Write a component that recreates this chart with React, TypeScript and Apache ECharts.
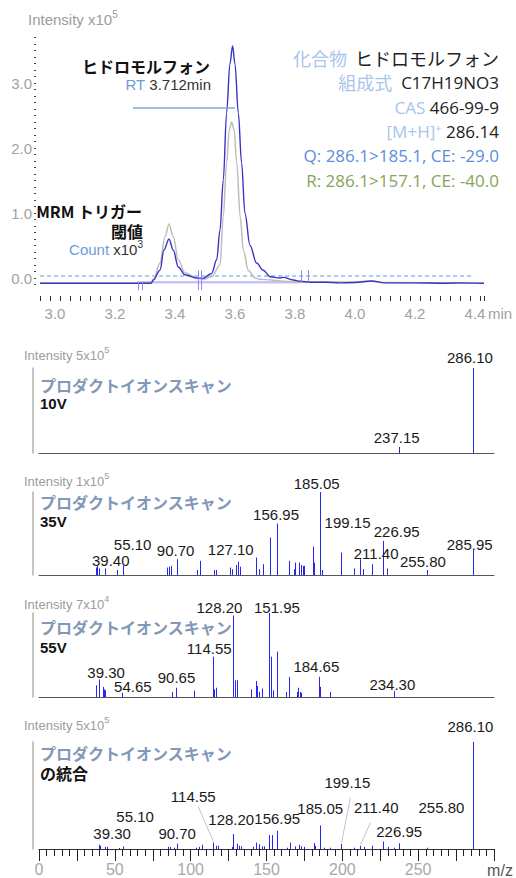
import React, { useEffect, useRef } from "react";
import * as echarts from "echarts";

// ---------------- DATA ----------------
// Chromatogram (time in min, intensity in 10^5)
const quantTrace: [number, number][] = [
  [2.95, -0.08], [3.1, -0.08], [3.25, -0.08], [3.32, -0.08], [3.328, -0.03], [3.35, 0.12],
  [3.363, 0.43], [3.38, 0.6], [3.394, 0.43], [3.411, 0.17], [3.433, 0.05], [3.472, 0.0],
  [3.493, -0.005], [3.522, 0.07], [3.539, 0.28], [3.55, 0.74], [3.561, 1.51], [3.572, 2.54],
  [3.583, 3.29], [3.592, 3.57], [3.6, 3.29], [3.611, 2.54], [3.622, 1.77], [3.633, 1.0],
  [3.65, 0.5], [3.672, 0.23], [3.694, 0.12], [3.717, 0.02], [3.75, 0.0], [3.761, 0.01],
  [3.794, -0.03], [3.817, -0.05], [3.85, -0.065], [3.9, -0.065], [3.95, -0.075], [4.0, -0.07],
  [4.055, -0.045], [4.1, -0.075], [4.2, -0.075], [4.3, -0.08], [4.35, -0.075], [4.43, -0.08],
];
const qualTrace: [number, number][] = [
  [2.95, -0.08], [3.32, -0.08], [3.328, -0.02], [3.35, 0.23], [3.367, 0.64], [3.38, 0.83],
  [3.394, 0.64], [3.411, 0.28], [3.433, 0.08], [3.472, 0.0], [3.494, -0.02], [3.522, 0.02],
  [3.55, 0.2], [3.561, 0.95], [3.572, 1.77], [3.581, 2.28], [3.589, 2.4], [3.597, 2.28],
  [3.606, 1.77], [3.617, 0.95], [3.628, 0.43], [3.644, 0.12], [3.667, 0.0], [3.683, -0.02],
  [3.72, -0.03], [3.76, -0.05], [3.8, -0.06], [4.0, -0.06], [4.055, -0.05], [4.1, -0.07], [4.43, -0.08],
];
const thresholdLevel = 0.03;
const thresholdSpan = [2.927, 4.39];
const triggerWindow = [3.275, 3.82];
const triggerLevel = -0.065;
const triggerMarks = [3.275, 3.475, 3.82];
const rtLine = [3.26, 3.6];
const rtLevel = 2.615;
const chromXLabels = [3.0, 3.2, 3.4, 3.6, 3.8, 4.0, 4.2, 4.4];
const chromYLabels = [0, 1, 2, 3];

// Product ion spectra (m/z, relative intensity %)
const mz10V = [237.15, 286.1];
const int10V = [7, 100];
const labels10V = [286.1, 237.15];

const mz35V = [37.6, 38.5, 39.4, 43.5, 51.5, 55.1, 84.5, 85.8, 86.8, 90.7, 104.2, 106.3, 115.1, 116.4,
  126.1, 127.1, 130.2, 131.1, 132.8, 142.9, 144.9, 147.9, 152.5, 156.95, 164.6, 167.9, 168.8, 171.2,
  173.0, 173.9, 174.5, 180.4, 181.1, 185.05, 186.8, 199.15, 207.5, 211.4, 213.8, 219.6, 226.95, 229.6,
  255.8, 285.95];
const int35V = [9, 11, 8, 8, 6, 11, 9, 10, 11, 19, 6, 17, 6, 6,
  9, 7, 12, 16, 10, 21, 7, 13, 45, 62, 17, 7, 15, 15,
  12, 11, 11, 34, 15, 100, 6, 27, 8, 19, 7, 13, 41, 8,
  6, 30];
const labels35V = [185.05, 156.95, 199.15, 226.95, 211.4, 255.8, 285.95, 127.1, 90.7, 55.1, 39.4];

const mz55V = [37.9, 39.3, 42.0, 42.9, 43.8, 54.65, 88.0, 90.65, 102.5, 114.55, 115.7, 116.6, 128.2,
  129.5, 130.8, 140.1, 142.8, 143.9, 144.8, 147.2, 151.95, 152.8, 154.4, 156.6, 162.8, 164.6, 170.1,
  171.0, 171.9, 172.7, 184.65, 185.5, 191.6, 234.3];
const int55V = [14, 21, 12, 9, 8, 5, 6, 11, 7.5, 48, 9, 11, 97,
  20, 20, 9, 19, 13, 6, 10, 100, 48, 8, 54, 6, 24, 6,
  11, 6, 5, 24, 12, 6, 7];
const labels55V = [128.2, 151.95, 114.55, 184.65, 234.3, 90.65, 54.65, 39.3];

const mzSum = [39.3, 40.3, 43.8, 44.7, 52.9, 55.1, 84.9, 86.5, 89.1, 90.7, 103.2, 105.8, 107.6, 114.55,
  117.0, 117.9, 127.2, 128.2, 130.5, 131.8, 133.1, 141.0, 143.2, 144.8, 147.2, 148.1, 151.95, 153.4,
  156.95, 163.5, 165.3, 169.0, 171.2, 172.9, 174.5, 181.1, 181.7, 185.05, 187.7, 192.1, 199.15, 207.9,
  211.4, 214.1, 219.6, 226.95, 229.9, 234.3, 237.15, 255.8, 286.1];
const intSum = [4, 3, 2, 2, 1, 2.5, 2, 2, 1.2, 5, 1.2, 2, 4, 6,
  3, 3, 2, 14, 5, 3, 2.5, 2, 6, 4.5, 2.5, 2.5, 13, 13,
  17, 1.2, 6, 2.5, 4, 2.5, 2, 5.5, 3, 22, 1.2, 1.2, 4.7, 1.2,
  3, 2, 3, 7, 2, 1.2, 5.3, 1.2, 100];
const labelsSum = [286.1, 199.15, 114.55, 211.4, 255.8, 185.05, 128.2, 156.95, 55.1, 226.95, 39.3, 90.7];

const mzAxisLabels = [0, 50, 100, 150, 200, 250];

// ---------------- LAYOUT (label offsets from peak tops, px) ----------------
const off10V = [[-3, -11], [-2, -10]];
const off35V = [[-3, -9], [-1, -9], [6.5, -30], [13.5, -9], [16.5, -6], [-4, -9], [-3, -6], [-1, -20], [-1, -9], [10, -21], [12, -8]];
const off55V = [[-14, -8.5], [7.5, -6], [-3.5, -8], [-2.7, -10], [-2, -7], [0, -10], [11, -6.5], [7.5, -7]];
const offSum = [[-2.5, -16], [6.3, -61], [-19.5, -46], [16.7, -38], [14.5, -40], [0.6, -17], [-2.2, -15], [0.2, -12], [12.5, -30], [16, -10], [13.5, -11], [0.6, -10]];
const leadSum: (number[] | null)[] = [null, [3, 15], [5, 10], [-6, 15], null, null, null, null, null, null, null, null];

const LATIN = '"Liberation Sans", Arial, sans-serif';
const CJK = '"Noto Sans CJK JP", sans-serif';
const INFO = '"Open Sans", "Noto Sans CJK JP", sans-serif';
const BAR = "#2626f2";
const GREY = "#9c9c9c";

let measureCtx: CanvasRenderingContext2D | null = null;
function textWidth(text: string, size: number, family: string, weight = "normal") {
  if (!measureCtx) measureCtx = document.createElement("canvas").getContext("2d");
  if (!measureCtx) return text.length * size * 0.55;
  measureCtx.font = `${weight} ${size}px ${family}`;
  return measureCtx.measureText(text).width;
}

type Part = { text: string; size: number; color: string; family?: string; sup?: boolean };
function partsText(x: number, y: number, parts: Part[], align: "left" | "right") {
  const widths = parts.map((p) => textWidth(p.text, p.size, p.family || LATIN));
  const total = widths.reduce((a, b) => a + b, 0);
  let cx = align === "right" ? x - total : x;
  const children: any[] = [];
  parts.forEach((p, i) => {
    children.push({
      type: "text",
      x: cx,
      y: p.sup ? y - 5 : y,
      style: {
        text: p.text,
        fill: p.color,
        fontSize: p.size,
        fontFamily: p.family || LATIN,
        align: "left",
        verticalAlign: "middle",
        lineHeight: p.size,
      },
    });
    cx += widths[i];
  });
  return { type: "group", children };
}

function barSeries(idx: number, mz: number[], ints: number[]) {
  return {
    type: "custom",
    xAxisIndex: idx,
    yAxisIndex: idx,
    silent: true,
    z: 3,
    data: mz.map((m, i) => [m, ints[i]]),
    renderItem: (_p: any, api: any) => {
      const p0 = api.coord([api.value(0), 0]);
      const p1 = api.coord([api.value(0), api.value(1)]);
      const x = Math.round(p0[0]) + 0.5;
      return { type: "line", shape: { x1: x, y1: p0[1], x2: x, y2: p1[1] }, style: { stroke: BAR, lineWidth: 1 } };
    },
  };
}

function labelSeries(idx: number, labels: number[], mz: number[], ints: number[], offs: number[][], leads?: (number[] | null)[]) {
  return {
    type: "custom",
    xAxisIndex: idx,
    yAxisIndex: idx,
    silent: true,
    z: 4,
    data: labels.map((m, i) => [m, ints[mz.indexOf(m)], i]),
    renderItem: (_p: any, api: any) => {
      const i = api.value(2);
      const p = api.coord([api.value(0), api.value(1)]);
      const cx = p[0] + offs[i][0];
      const cy = p[1] + offs[i][1];
      const children: any[] = [
        {
          type: "text",
          x: cx,
          y: cy,
          style: { text: labels[i].toFixed(2), fill: "#1a1a1a", fontSize: 15, lineHeight: 15, fontFamily: LATIN, align: "center", verticalAlign: "middle" },
        },
      ];
      const l = leads && leads[i];
      if (l) {
        children.push({
          type: "line",
          shape: { x1: cx + l[0], y1: cy + l[1], x2: Math.round(p[0]) + 0.5, y2: p[1] - 1 },
          style: { stroke: "#c4c4c4", lineWidth: 1 },
        });
      }
      return { type: "group", children };
    },
  };
}

function plainText(x: number, y: number, text: string, opts: any) {
  return { type: "text", x, y, style: { text, verticalAlign: "middle", lineHeight: opts.fontSize || 14, ...opts } };
}

function buildOption() {
  const yTicks: number[] = [];
  for (let k = -1; k <= 37; k++) yTicks.push(k / 10);

  const panelTops = [368, 492, 613, 742];
  const panelHeights = [85, 83, 84, 107];

  const grids: any[] = [{ left: 40, top: 31, width: 444, height: 260, outerBoundsMode: "none" }];
  panelTops.forEach((t, i) => grids.push({ left: 39, top: t, width: 455, height: panelHeights[i], outerBoundsMode: "none" }));

  const xAxes: any[] = [
    {
      type: "value",
      gridIndex: 0,
      min: 2.95,
      max: 4.43,
      interval: 1 / 30,
      offset: 5,
      axisLine: { show: false, onZero: false },
      splitLine: { show: false },
      axisTick: { show: true, length: 5, lineStyle: { color: "#333", width: 1 } },
      axisLabel: { show: true, customValues: chromXLabels, formatter: (v: number) => v.toFixed(1), color: "#a2a2a2", fontSize: 15, fontFamily: LATIN, margin: 10 },
    },
  ];
  const yAxes: any[] = [
    {
      type: "value",
      gridIndex: 0,
      min: -0.2,
      max: 3.8,
      offset: 4,
      axisLine: { show: false, onZero: false },
      splitLine: { show: false },
      axisTick: { show: true, customValues: yTicks, length: 2, lineStyle: { color: "#444", width: 1 } },
      axisLabel: { customValues: chromYLabels, formatter: (v: number) => v.toFixed(1), color: "#a2a2a2", fontSize: 15, fontFamily: LATIN, margin: 4 },
    },
  ];
  for (let i = 1; i <= 4; i++) {
    const last = i === 4;
    xAxes.push({
      type: "value",
      gridIndex: i,
      min: 0,
      max: 300,
      interval: 25,
      axisLine: { show: true, onZero: false, lineStyle: { color: last ? "#333" : "#555", width: 1 } },
      splitLine: { show: false },
      axisTick: { show: last, length: 12, lineStyle: { color: "#222" } },
      minorTick: { show: last, splitNumber: 5, length: 7, lineStyle: { color: "#222" } },
      axisLabel: last
        ? { show: true, customValues: mzAxisLabels, color: "#a8a8a8", fontSize: 16, fontFamily: LATIN, margin: 12 }
        : { show: false },
    });
    yAxes.push({
      type: "value",
      gridIndex: i,
      min: 0,
      max: 100,
      offset: 6,
      axisLine: { show: true, onZero: false, lineStyle: { color: "#b3b3b3", width: 1.5 } },
      splitLine: { show: false },
      axisTick: { show: false },
      axisLabel: { show: false },
    });
  }

  const markerSpans = [[0, 8], [-12, 8], [-12, 0]];
  const markerGaps = [4, 3, 7];

  const series: any[] = [
    {
      type: "line",
      xAxisIndex: 0,
      yAxisIndex: 0,
      data: [[thresholdSpan[0], thresholdLevel], [thresholdSpan[1], thresholdLevel]],
      showSymbol: false,
      clip: false,
      silent: true,
      lineStyle: { color: "#8ebaef", width: 1.5, type: [4, 3] },
      z: 1,
    },
    {
      type: "line",
      xAxisIndex: 0,
      yAxisIndex: 0,
      data: [[triggerWindow[0], triggerLevel], [triggerWindow[1], triggerLevel]],
      showSymbol: false,
      silent: true,
      lineStyle: { color: "rgba(150,146,243,0.55)", width: 2.5 },
      z: 1,
    },
    {
      type: "line",
      xAxisIndex: 0,
      yAxisIndex: 0,
      data: qualTrace,
      showSymbol: false,
      smooth: 0.35,
      smoothMonotone: "x",
      silent: true,
      lineStyle: { color: "#bdbdbd", width: 1.5 },
      z: 2,
    },
    {
      type: "line",
      xAxisIndex: 0,
      yAxisIndex: 0,
      data: quantTrace,
      showSymbol: false,
      smooth: 0.35,
      smoothMonotone: "x",
      silent: true,
      lineStyle: { color: "#3a33c4", width: 1.4 },
      z: 3,
    },
    {
      type: "line",
      xAxisIndex: 0,
      yAxisIndex: 0,
      data: [[rtLine[0], rtLevel], [rtLine[1], rtLevel]],
      showSymbol: false,
      silent: true,
      lineStyle: { color: "#7ea8dd", width: 1.5 },
      z: 4,
    },
    {
      type: "custom",
      xAxisIndex: 0,
      yAxisIndex: 0,
      silent: true,
      z: 5,
      data: triggerMarks.map((t, i) => [t, triggerLevel, i]),
      renderItem: (_p: any, api: any) => {
        const i = api.value(2);
        const p = api.coord([api.value(0), api.value(1)]);
        const g = markerGaps[i];
        const [a, b] = markerSpans[i];
        const x0 = Math.round(p[0]) + 0.5;
        return {
          type: "group",
          children: [0, 1].map((k) => ({
            type: "line",
            shape: { x1: x0 + k * g, y1: p[1] + a, x2: x0 + k * g, y2: p[1] + b },
            style: { stroke: "#8d89ee", lineWidth: 1 },
          })),
        };
      },
    },
    barSeries(1, mz10V, int10V),
    labelSeries(1, labels10V, mz10V, int10V, off10V),
    barSeries(2, mz35V, int35V),
    labelSeries(2, labels35V, mz35V, int35V, off35V),
    barSeries(3, mz55V, int55V),
    labelSeries(3, labels55V, mz55V, int55V, off55V),
    barSeries(4, mzSum, intSum),
    labelSeries(4, labelsSum, mzSum, intSum, offSum, leadSum),
  ];

  const lightBlue = "#a9c5ec";
  const infoLine = (y: number, text: string, rich: any) => ({
    type: "text",
    x: 499,
    y,
    style: { text, align: "right", verticalAlign: "middle", rich },
  });
  const kCJK = { fontSize: 18, lineHeight: 19, fill: lightBlue, fontFamily: CJK };
  const vCJK = { fontSize: 18, lineHeight: 19, fill: "#222", fontFamily: CJK };
  const kLat = { fontSize: 17, lineHeight: 19, fill: lightBlue, fontFamily: INFO };
  const vLat = { fontSize: 17, lineHeight: 19, fill: "#222", fontFamily: INFO };

  const panelHeadY = [355, 481, 604, 725];
  const panelExp = [["5x10", "5"], ["1x10", "5"], ["7x10", "4"], ["5x10", "5"]];
  const scanY = [385, 502, 627, 753];
  const subTitles = ["10V", "35V", "55V", "の統合"];
  const subY = [403, 521, 647, 773];

  const graphics: any[] = [
    partsText(28, 19, [
      { text: "Intensity x10", size: 15, color: GREY },
      { text: "5", size: 10, color: GREY, sup: true },
    ], "left"),
    plainText(210, 65.5, "ヒドロモルフォン", { align: "right", fontSize: 16, fontWeight: "bold", fill: "#111", fontFamily: CJK }),
    partsText(211, 84, [
      { text: "RT ", size: 15, color: "#6a9de0" },
      { text: "3.712min", size: 15, color: "#333" },
    ], "right"),
    plainText(142, 210.5, "MRM トリガー", { align: "right", fontSize: 16, fontWeight: "bold", fill: "#111", fontFamily: CJK }),
    plainText(143, 230.5, "閾値", { align: "right", fontSize: 16, fontWeight: "bold", fill: "#111", fontFamily: CJK }),
    partsText(143, 249, [
      { text: "Count ", size: 15, color: "#6a9de0" },
      { text: "x10", size: 15, color: "#333" },
      { text: "3", size: 10, color: "#333", sup: true },
    ], "right"),
    infoLine(58, "{k|化合物}{v|  ヒドロモルフォン}", { k: kCJK, v: vCJK }),
    infoLine(82, "{k|組成式}{v|  C17H19NO3}", { k: kCJK, v: vLat }),
    infoLine(107, "{k|CAS}{v| 466-99-9}", { k: kLat, v: vLat }),
    infoLine(131, "{k|[M+H]}{s|+}{v| 286.14}", { k: kLat, v: vLat, s: { fontSize: 11, fill: lightBlue, fontFamily: INFO, verticalAlign: "top", lineHeight: 10 } }),
    infoLine(155, "{q|Q: 286.1>185.1, CE: -29.0}", { q: { fontSize: 17, lineHeight: 19, fill: "#5b8fd8", fontFamily: INFO } }),
    infoLine(180, "{r|R: 286.1>157.1, CE: -40.0}", { r: { fontSize: 17, lineHeight: 19, fill: "#88a35a", fontFamily: INFO } }),
    plainText(488, 313, "min", { align: "left", fontSize: 15, fill: "#a2a2a2", fontFamily: LATIN }),
    plainText(500, 870, "m/z", { align: "center", fontSize: 16, fill: "#555", fontFamily: LATIN }),
  ];
  for (let i = 0; i < 4; i++) {
    graphics.push(partsText(24, panelHeadY[i], [
      { text: "Intensity " + panelExp[i][0], size: 13, color: GREY },
      { text: panelExp[i][1], size: 9, color: GREY, sup: true },
    ], "left"));
    graphics.push(plainText(40, scanY[i], "プロダクトイオンスキャン", { align: "left", fontSize: 16, fontWeight: "bold", fill: "#8397b8", fontFamily: CJK }));
    graphics.push(
      plainText(40, subY[i], subTitles[i], {
        align: "left",
        fontSize: i === 3 ? 16 : 15,
        fontWeight: "bold",
        fill: "#111",
        fontFamily: i === 3 ? CJK : LATIN,
      })
    );
  }

  return {
    animation: false,
    backgroundColor: "#ffffff",
    grid: grids,
    xAxis: xAxes,
    yAxis: yAxes,
    series,
    graphic: graphics,
  };
}

export default function App() {
  const ref = useRef<HTMLDivElement>(null);
  useEffect(() => {
    document.body.style.margin = "0";
    const chart = echarts.init(ref.current!, null, { renderer: "svg" });
    chart.setOption(buildOption() as any);
    return () => chart.dispose();
  }, []);
  return (
    <div
      ref={ref}
      style={{ position: "absolute", left: 0, top: 0, width: 516, height: 878, background: "#fff" }}
    />
  );
}
